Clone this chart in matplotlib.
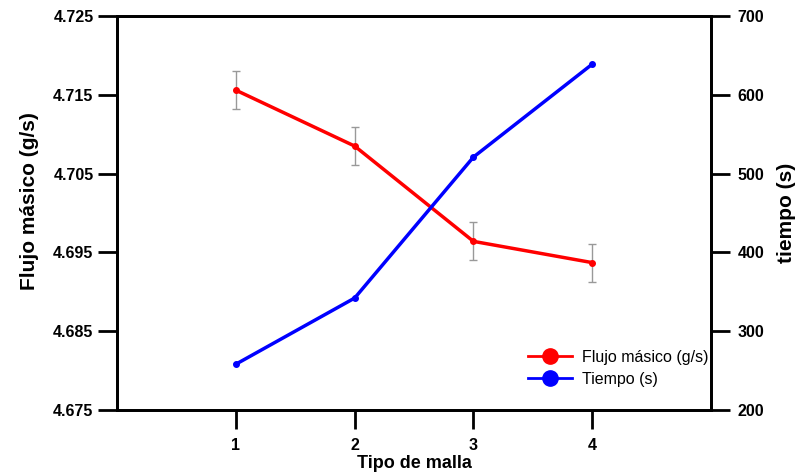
import matplotlib.pyplot as plt
from matplotlib.lines import Line2D

plt.rcParams['font.family'] = ['Liberation Sans', 'DejaVu Sans']

# datos
malla = [1, 2, 3, 4]
flujo = [4.7156, 4.7085, 4.6964, 4.6937]
flujo_err = [0.0024, 0.0024, 0.0024, 0.0024]
tiempo = [258, 342, 521, 639]

fig = plt.figure(figsize=(7.97, 4.76), dpi=100)
ax = fig.add_axes([0.147, 0.139, 0.745, 0.827])
ax2 = ax.twinx()

ax.errorbar(malla, flujo, yerr=flujo_err, color='red', lw=2.5, marker='o', ms=4,
            ecolor='#999999', elinewidth=1, capsize=3, capthick=1, zorder=3)
ax2.plot(malla, tiempo, color='blue', lw=2.5, marker='o', ms=4)

ax.set_xlim(0, 5)
ax.set_ylim(4.675, 4.725)
ax.set_yticks([4.675, 4.685, 4.695, 4.705, 4.715, 4.725])
ax.set_yticklabels(['4.675', '4.685', '4.695', '4.705', '4.715', '4.725'])
ax.set_xticks(malla)
ax2.set_ylim(200, 700)
ax2.set_yticks([200, 300, 400, 500, 600, 700])

for a in (ax, ax2):
    for s in a.spines.values():
        s.set_linewidth(2)
    a.tick_params(direction='out', length=14, width=2, labelsize=11.5)
    for lbl in a.get_xticklabels() + a.get_yticklabels():
        lbl.set_fontweight('bold')
ax.tick_params(axis='x', pad=6)
ax.tick_params(axis='y', pad=3)
ax2.tick_params(axis='y', pad=5)

ax.set_xlabel('Tipo de malla', fontsize=13, fontweight='bold', labelpad=2)
ax.set_ylabel('Flujo másico (g/s)', fontsize=15, fontweight='bold')
ax2.set_ylabel('tiempo (s)', fontsize=15, fontweight='bold')
ax.yaxis.set_label_coords(-0.132, 0.53)
ax2.yaxis.set_label_coords(1.112, 0.5)

handles = [
    Line2D([], [], color='red', lw=2, marker='o', ms=11),
    Line2D([], [], color='blue', lw=2, marker='o', ms=11),
]
ax2.legend(handles, ['Flujo másico (g/s)', 'Tiempo (s)'], loc='lower right',
           frameon=False, fontsize=11.5, handlelength=2.8, handletextpad=0.6,
           labelspacing=0.45, borderaxespad=0.5, bbox_to_anchor=(1.02, 0.022))

fig.savefig('out.png', dpi=100)
